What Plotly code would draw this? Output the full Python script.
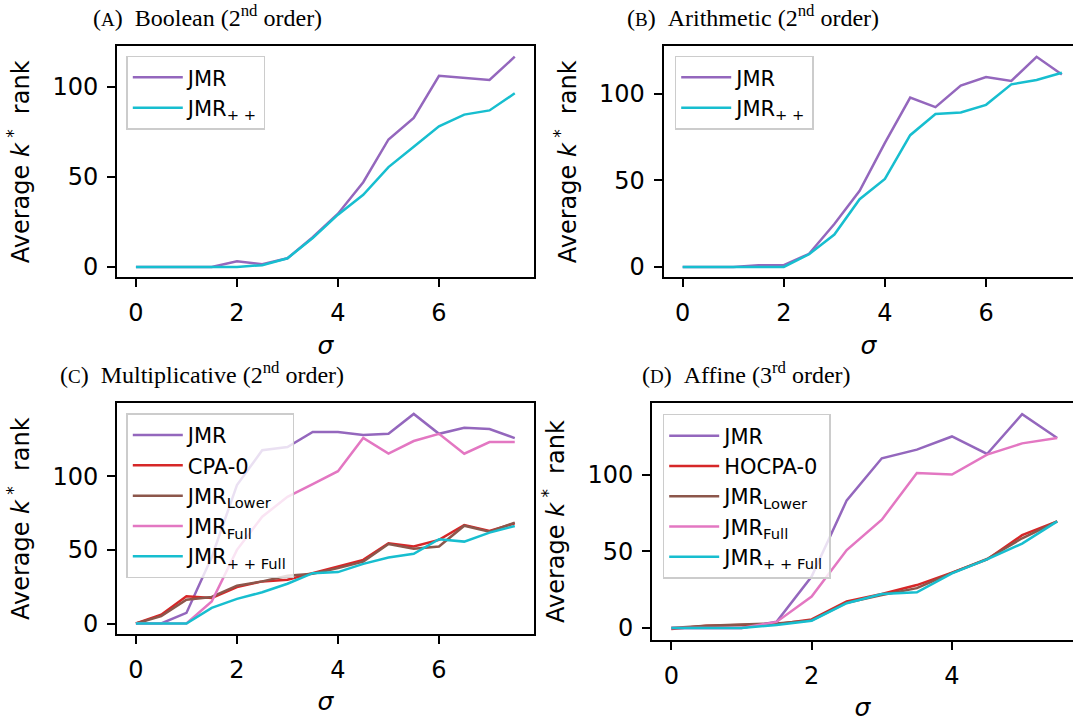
import plotly.graph_objects as go

W, H = 1073, 722

# ---------------- data ----------------
sigma_long = [0, 0.5, 1, 1.5, 2, 2.5, 3, 3.5, 4, 4.5, 5, 5.5, 6, 6.5, 7, 7.5]
sigma_short = [0, 0.5, 1, 1.5, 2, 2.5, 3, 3.5, 4, 4.5, 5, 5.5]

# (A) Boolean
a_jmr = [0, 0, 0, 0, 3.1, 1.5, 4.8, 16.5, 29.5, 47, 70.7, 82.6, 106, 105, 103.7, 116.6]
a_jmrpp = [0, 0, 0, 0, 0, 1, 4.8, 16, 29, 40, 55.4, 66.7, 78, 84.5, 86.8, 96.3]

# (B) Arithmetic
b_jmr = [0, 0, 0, 1, 1, 7.6, 24.8, 43.9, 71.6, 97.7, 92.2, 104.6, 109.5, 107.3, 121.2, 111]
b_jmrpp = [0, 0, 0, 0, 0, 7.3, 18.7, 39.1, 50.8, 76, 88.2, 89.1, 93.5, 105.3, 107.8, 112]

# (C) Multiplicative
c_jmr = [0, 0, 7.2, 45, 94, 117.6, 119.8, 130, 130, 128, 128.8, 142.3, 128.8, 132.9, 132, 125.9]
c_cpa0 = [0, 6, 18.5, 17.3, 24.8, 28.6, 29.7, 34.2, 38.7, 43.2, 54.5, 52.3, 56.8, 66.9, 62.8, 68]
c_lower = [0, 5, 16.2, 18, 25.7, 28.6, 32.4, 33.8, 37.6, 42, 54, 50.7, 52.3, 66.4, 62.4, 68.5]
c_full = [0, 0, 0, 14.9, 50, 72.5, 86, 94.6, 103.4, 126, 115.3, 123.9, 128.8, 115.3, 123.2, 123.2]
c_ppfull = [0, 0, 0, 10.6, 16.7, 21.2, 27, 34.2, 34.9, 40.5, 44.8, 47.3, 57.2, 55.6, 61.7, 66.2]

# (D) Affine
d_jmr = [0, 0, 0, 4.1, 33.5, 83.2, 110.6, 116.2, 124.8, 113.4, 139.3, 123.8]
d_hocpa0 = [-0.6, 1.5, 2, 2.5, 5.6, 17.3, 22.2, 28, 36, 44.7, 60.5, 69.5]
d_lower = [0, 1.5, 2.3, 3, 5, 16.5, 21.5, 26, 36, 45, 58.5, 69.5]
d_full = [0, 0, 0, 4, 20.5, 50.8, 70.6, 101, 100, 113, 120.3, 123.8]
d_ppfull = [0, 0, 0, 2, 4.8, 16.2, 22.2, 23.3, 35.6, 44.7, 55, 69.5]

titles = [
    ("A", "Boolean", "2", "nd"),
    ("B", "Arithmetic", "2", "nd"),
    ("C", "Multiplicative", "2", "nd"),
    ("D", "Affine", "3", "rd"),
]

PURPLE, CYAN, RED, BROWN, PINK = "#9467bd", "#17becf", "#d62728", "#8c564b", "#e377c2"

# ---------------- figure ----------------
fig = go.Figure()

def px_x(v):
    return v / W

def px_y(v):
    return 1 - v / H

panels = [
    ("", (117, 533.7), (46.5, 279), (-0.375, 7.875), (-5.83, 122.4), True, [0, 2, 4, 6]),
    ("2", (663.7, 1073), (46.5, 279), (-0.375, 7.72), (-6.06, 127.3), False, [0, 2, 4, 6]),
    ("3", (117, 533.7), (405.7, 637.5), (-0.375, 7.875), (-7.1, 149.4), True, [0, 2, 4, 6]),
    ("4", (652, 1073), (405.7, 643.3), (-0.275, 5.725), (-7.6, 146.3), False, [0, 2, 4]),
]

series = [
    [(sigma_long, a_jmr, "JMR", PURPLE), (sigma_long, a_jmrpp, "JMR<sub>+ +</sub>", CYAN)],
    [(sigma_long, b_jmr, "JMR", PURPLE), (sigma_long, b_jmrpp, "JMR<sub>+ +</sub>", CYAN)],
    [(sigma_long, c_jmr, "JMR", PURPLE), (sigma_long, c_cpa0, "CPA-0", RED),
     (sigma_long, c_lower, "JMR<sub>Lower</sub>", BROWN), (sigma_long, c_full, "JMR<sub>Full</sub>", PINK),
     (sigma_long, c_ppfull, "JMR<sub>+ + Full</sub>", CYAN)],
    [(sigma_short, d_jmr, "JMR", PURPLE), (sigma_short, d_hocpa0, "HOCPA-0", RED),
     (sigma_short, d_lower, "JMR<sub>Lower</sub>", BROWN), (sigma_short, d_full, "JMR<sub>Full</sub>", PINK),
     (sigma_short, d_ppfull, "JMR<sub>+ + Full</sub>", CYAN)],
]

legend_pos = [(126.3, 56), (674.7, 56), (126.3, 415.7), (662.7, 416.3)]
title_pos = [(91, 16), (625, 16), (58, 375), (640, 375)]

tickfont = dict(family="DejaVu Sans", size=24, color="black")
layout = dict(
    width=W, height=H, margin=dict(l=0, r=0, t=0, b=0),
    paper_bgcolor="white", plot_bgcolor="white", showlegend=True,
)

annotations = []
for i, (suf, xd, yd, xr, yr, right, xt) in enumerate(panels):
    xa = "x" + suf
    ya = "y" + suf
    leg = "legend" + suf
    for j, (xs, ys, name, col) in enumerate(series[i]):
        fig.add_trace(go.Scatter(
            x=xs, y=ys, name=name, mode="lines",
            line=dict(color=col, width=2.5),
            xaxis=xa, yaxis=ya, legend=leg,
        ))
    layout["xaxis" + suf] = dict(
        domain=[px_x(xd[0]), px_x(xd[1])], range=list(xr), anchor=ya,
        tickmode="array", tickvals=xt, ticks="outside", ticklen=8, tickwidth=2,
        tickcolor="black", showline=True, linecolor="black", linewidth=2,
        mirror=True, showgrid=False, zeroline=False, tickfont=tickfont,
        ticklabelstandoff=5,
        title=dict(text="<i>σ</i>", font=dict(family="DejaVu Sans", size=25, color="black"), standoff=10),
    )
    layout["yaxis" + suf] = dict(
        domain=[px_y(yd[1]), px_y(yd[0])], range=list(yr), anchor=xa,
        tickmode="array", tickvals=[0, 50, 100], ticks="outside", ticklen=8, tickwidth=2,
        tickcolor="black", showline=True, linecolor="black", linewidth=2,
        mirror=right, showgrid=False, zeroline=False, tickfont=tickfont,
        ticklabelstandoff=4,
        title=dict(text="Average <i>k</i><sup> *</sup>  rank", font=dict(family="DejaVu Sans", size=24, color="black"), standoff=16),
    )
    lx, ly = legend_pos[i]
    layout[leg] = dict(
        x=px_x(lx), y=px_y(ly), xanchor="left", yanchor="top",
        bgcolor="rgba(255,255,255,0.8)", bordercolor="#cccccc", borderwidth=1.5,
        font=dict(family="DejaVu Sans", size=21, color="black"),
        itemwidth=50, tracegroupgap=0,
    )
    lab, word, num, sup = titles[i]
    tx, ty = title_pos[i]
    annotations.append(dict(
        text=f"(<span style='font-size:19px'>{lab}</span>)&nbsp;&nbsp;{word} ({num}<sup>{sup}</sup> order)",
        x=px_x(tx), y=px_y(ty), xref="paper", yref="paper", xanchor="left", yanchor="middle",
        showarrow=False, font=dict(family="Liberation Serif", size=24, color="black"),
    ))

layout["annotations"] = annotations
fig.update_layout(**layout)
fig.write_html("out.html")
